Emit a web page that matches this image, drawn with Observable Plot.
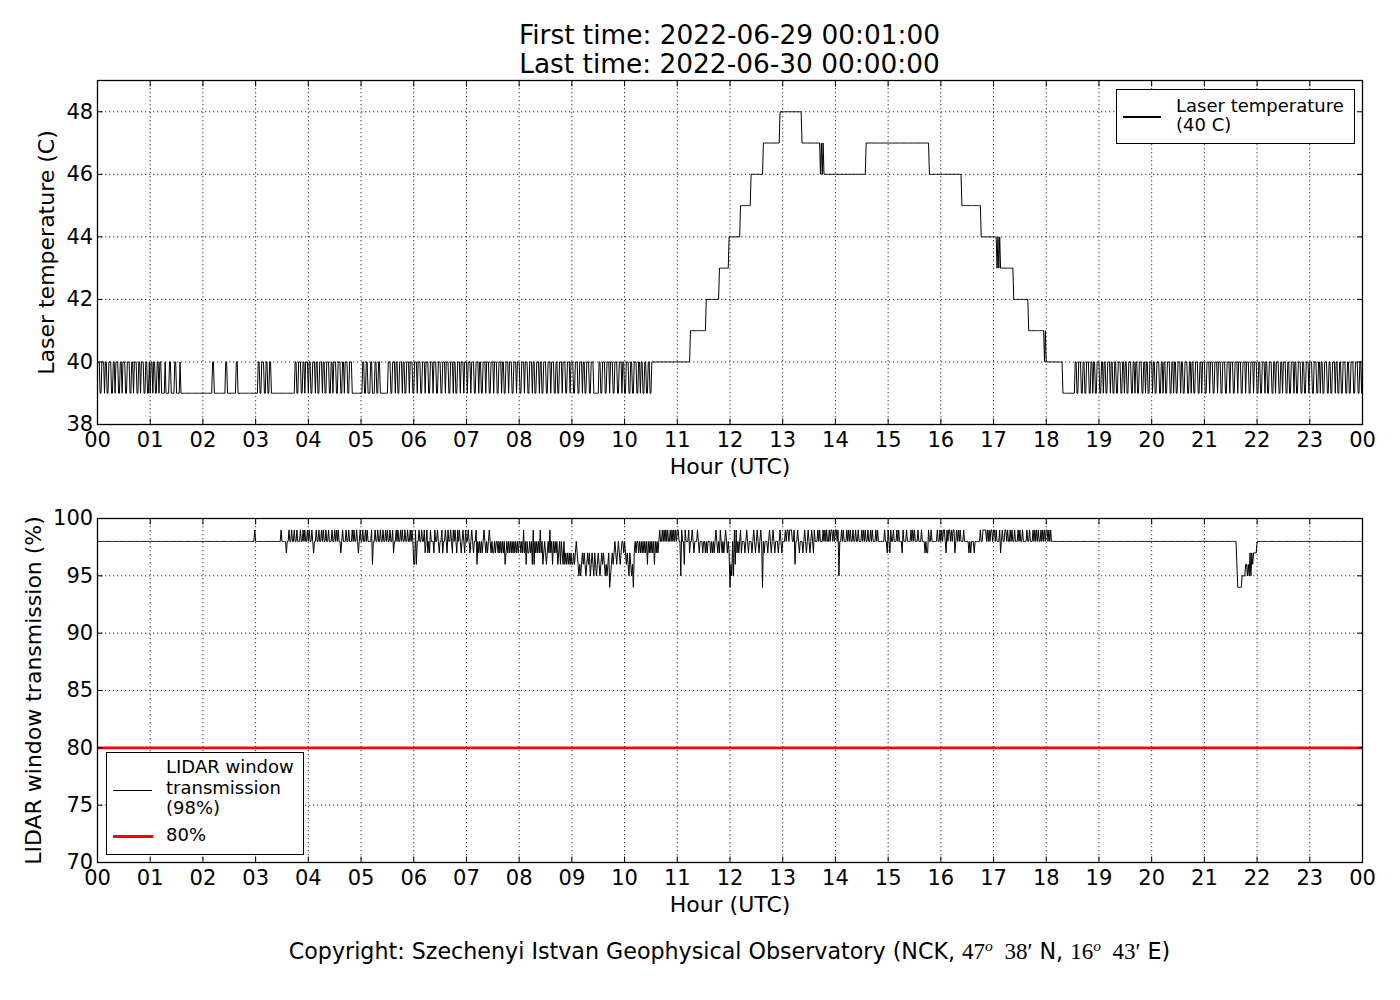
<!DOCTYPE html>
<html><head><meta charset="utf-8">
<script src="https://cdn.jsdelivr.net/npm/d3@7"></script>
<script src="https://cdn.jsdelivr.net/npm/@observablehq/plot@0.6"></script>
<style>
body{margin:0;background:#fff;}
#page{position:relative;width:1400px;height:1000px;background:#fff;font-family:"DejaVu Sans",sans-serif;color:#000;overflow:hidden}
.abs{position:absolute;white-space:nowrap}
.title{font-size:26.4px;line-height:26.4px;left:729.5px;transform:translateX(-50%)}
.legbox{position:absolute;border:1px solid #000;background:#fff;box-sizing:border-box}
.legtext{position:absolute;font-size:18px;white-space:nowrap}
.sw{position:absolute}
.m{font-family:"Liberation Serif",serif;font-size:23px}
.m sup{font-size:0.68em;vertical-align:0.5em;line-height:0;font-style:italic}
#footer{font-size:22.2px;line-height:22.2px;left:729.5px;top:939.5px;transform:translateX(-50%)}
.panel{position:absolute;left:0}
</style></head><body>
<div id="page">
  <div class="abs title" style="top:22.2px">First time: 2022-06-29 00:01:00</div>
  <div class="abs title" style="top:51.2px">Last time: 2022-06-30 00:00:00</div>
  <div id="topPanel" class="panel" style="top:60px"></div>
  <div id="botPanel" class="panel" style="top:498px"></div>

  <div class="legbox" style="left:1116px;top:89px;width:239px;height:55px"></div>
  <div class="sw" style="left:1123px;top:116.4px;width:38px;height:1.2px;background:#000"></div>
  <div class="legtext" style="left:1176px;top:95.8px;line-height:19px">Laser temperature<br>(40 C)</div>

  <div class="legbox" style="left:106px;top:752px;width:198px;height:103px"></div>
  <div class="sw" style="left:113px;top:790px;width:39px;height:1.2px;background:#000"></div>
  <div class="legtext" style="left:166px;top:757.3px;line-height:20.5px">LIDAR window<br>transmission<br>(98%)</div>
  <div class="sw" style="left:113px;top:835px;width:39.5px;height:2.7px;background:#ff0000"></div>
  <div class="legtext" style="left:166px;top:824.5px;line-height:20.5px">80%</div>

  <div id="footer" class="abs">Copyright: Szechenyi Istvan Geophysical Observatory (NCK, <span class="m">47<sup>o</sup>&nbsp;&nbsp;38&#8242;</span> N, <span class="m">16<sup>o</sup>&nbsp;&nbsp;43&#8242;</span> E)</div>
</div>
<script>
// ---- data ----
const hourTicks = [0,1,2,3,4,5,6,7,8,9,10,11,12,13,14,15,16,17,18,19,20,21,22,23,24];
const tempTicks = [38,40,42,44,46,48];
const transTicks = [70,75,80,85,90,95,100];
const tempDomain = [38, 49];
const transDomain = [70, 100];
const threshold = 80;
const xLabel = "Hour (UTC)";
const tempLabel = "Laser temperature (C)";
const transLabel = "LIDAR window transmission (%)";

// Laser temperature, one row per hour, one digit per minute: value = 39 + digit
const tempBase = 39;
const tempRows = [
  "1100111011 0011100110 1110011011 1001110011 0111001101 1100110010",
  "1101100110 1100001000 0110000110 0001000000 0000000000 0000000000",
  "0000000000 1100000000 0000011000 0000000110 0000000000 0000000000",
  "0011001110 0110011000 0000000000 0000000000 0000110011 1001101110",
  "1100111011 0011101100 1110011011 1001110011 0111001110 0000000000",
  "0110011000 1100011001 1000000000 1110011101 1001110110 0111011100",
  "1110111001 1101110011 1011100111 0011101110 0111011001 1101110111",
  "0111011100 1110110011 1011100111 0111001110 1100111011 1001110111",
  "0011101110 0111011001 1101100111 0011101110 0110011101 1100111011",
  "1001110011 1011001110 0111000000 1100111001 1101110011 1001110110",
  "0111001100 1110011011 0011001100 1111111111 1111111111 1111111111",
  "1111111111 1111222222 2222222222 2233333333 3333333444 4444444455",
  "5555555555 5666666666 6667777777 7777777888 8888888888 8888889999",
  "9999999999 9999999999 9888888888 8888888888 8878787777 7777777777",
  "7777777777 7777777777 7777777777 7777888888 8888888888 8888888888",
  "8888888888 8888888888 8888888888 8888888888 8888887777 7777777777",
  "7777777777 7777777777 7776666666 6666666666 6666655555 5555555555",
  "5554545444 4444444444 4433333333 3333333332 2222222222 2222222121",
  "1111111111 1111111100 0000000000 0011001110 0110011100 1101100111",
  "0011011001 1101100110 0111001101 1001110011 0110011100 1101100111",
  "0110011100 1101100111 0011011001 1101100111 0011011001 1100110111",
  "0011101110 0111011100 1110011101 1100111011 1001110111 0011101110",
  "0110011101 1001110011 0111001101 1100110011 1011001110 0110011101",
  "1100111001 1011001110 0110011101 1001100111 0011001110 0111001101"
];

// LIDAR window transmission, one row per hour, one digit per minute: value = 90 + digit
const transBase = 90;
const transRows = [
  "8888888888 8888888888 8888888888 8888888888 8888888888 8888888888",
  "8888888888 8888888888 8888888888 8888888888 8888888888 8888888888",
  "8888888888 8888888888 8888888888 8888888888 8888888888 8888888898",
  "8888888888 8888888888 8888888898 8888788988 9889889888 9889898898",
  "9889878898 8988989889 8898889889 8989887898 8898898889 8988987898",
  "8988989888 8968898898 8988988989 8898897889 8988989889 8898898986",
  "6968898898 8978978798 8879889878 8978898798 8987989879 8987898798",
  "8987898788 9687878789 8787898787 7878878787 8786787878 7878787878",
  "8787978687 7878696878 7879786787 6787978687 8786786876 8676767676",
  "6767876565 6767656767 5676576567 6567676565 6745676787 6787678878",
  "7676576564 7878878787 8787868787 8786878789 8898989898 8989898989",
  "9885988698 8897889878 8898788878 8787888787 8789878798 7878987874",
  "6585969787 8978887898 7888789878 9878984878 8878987898 7888789878",
  "8898998999 8896889878 8878987898 7898798889 8988898989 8898998989",
  "9895889898 8898989889 8898898889 8989889889 8988898988 8888898879",
  "8798898889 8988879888 9888898989 8889888988 8787798898 8888898898",
  "9899879899 8989978989 8988898888 8787888788 8888988999 9898989989",
  "9898889789 8899898898 9889888989 8898888988 9888989898 9889898989",
  "9898988888 8888888888 8888888888 8888888888 8888888888 8888888888",
  "8888888888 8888888888 8888888888 8888888888 8888888888 8888888888",
  "8888888888 8888888888 8888888888 8888888888 8888888888 8888888888",
  "8888888888 8888888888 8888888888 8888886444 4455556656 5757677778",
  "8888888888 8888888888 8888888888 8888888888 8888888888 8888888888",
  "8888888888 8888888888 8888888888 8888888888 8888888888 8888888888"
];

// ---- build ----
function decode(rows, base) {
  const out = [];
  rows.forEach((row, h) => {
    const s = row.replace(/ /g, "");
    if (s.length !== 60) throw new Error("row " + h + " has length " + s.length);
    for (let i = 0; i < 60; i++) out.push({t: (h * 60 + i + 1) / 60, v: base + Number(s[i])});
  });
  return out;
}
const tempData = decode(tempRows, tempBase);
const transData = decode(transRows, transBase);

const fmtHour = d => String(d % 24).padStart(2, "0");
const gridStyle = {stroke: "#222", strokeOpacity: 1, strokeWidth: 0.9, strokeDasharray: "1.3,2.7"};

function panel({data, yDomain, yTicks, yLabel, yLabelDx, extra}) {
  return Plot.plot({
    width: 1400, height: 424,
    marginLeft: 97, marginRight: 38, marginTop: 20, marginBottom: 60,
    style: {fontFamily: "DejaVu Sans", fontSize: "21px", color: "#000", background: "transparent", overflow: "visible"},
    x: {domain: [0, 24], label: null},
    y: {domain: yDomain, label: null},
    marks: [
      Plot.gridX(hourTicks, gridStyle),
      Plot.gridY(yTicks, gridStyle),
      ...extra,
      Plot.line(data, {x: "t", y: "v", stroke: "#000", strokeWidth: 1}),
      Plot.frame({stroke: "#000", strokeWidth: 1.3}),
      Plot.axisX(hourTicks, {anchor: "bottom", tickSize: -5.5, tickPadding: 13.3, tickFormat: fmtHour, fontSize: 21, label: null}),
      Plot.axisX(hourTicks, {anchor: "top", tickSize: -5.5, tickFormat: () => "", label: null}),
      Plot.axisY(yTicks, {anchor: "left", tickSize: -5.5, tickPadding: 9.8, fontSize: 21, label: null}),
      Plot.axisY(yTicks, {anchor: "right", tickSize: -5.5, tickFormat: () => "", label: null}),
      Plot.text([xLabel], {frameAnchor: "bottom", lineAnchor: "bottom", textAnchor: "middle", dy: 49.3, fontSize: 22}),
      Plot.text([yLabel], {frameAnchor: "left", lineAnchor: "bottom", textAnchor: "middle", rotate: -90, dx: yLabelDx, fontSize: 22})
    ]
  });
}

document.getElementById("topPanel").append(panel({
  data: tempData, yDomain: tempDomain, yTicks: tempTicks, yLabel: tempLabel, yLabelDx: -43.5, extra: []
}));
document.getElementById("botPanel").append(panel({
  data: transData, yDomain: transDomain, yTicks: transTicks, yLabel: transLabel, yLabelDx: -56.5,
  extra: [Plot.ruleY([threshold], {stroke: "#ff0000", strokeWidth: 2.6})]
}));
</script>
</body></html>
